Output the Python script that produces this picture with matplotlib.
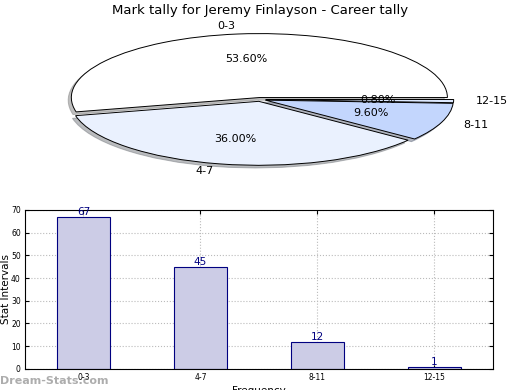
import numpy as np
import matplotlib
matplotlib.use("Agg")
import matplotlib.pyplot as plt

# Data
categories = ["0-3", "4-7", "8-11", "12-15"]
counts = [67, 45, 12, 1]
pie_colors = ["#ffffff", "#eaf1fe", "#c3d6fd", "#dce8fe"]
explode = [0.03, 0.03, 0.03, 0.03]

fig = plt.figure(figsize=(5.2, 3.9), dpi=100)

# Pie (squashed ellipse)
ax_pie = fig.add_axes([0.048, 0.54, 0.904, 0.41])
wedges, texts, autotexts = ax_pie.pie(
    counts, labels=categories, colors=pie_colors, explode=explode,
    autopct="%.2f%%", shadow=dict(ox=-0.012, oy=-0.03, shade=0.5),
    startangle=0, labeldistance=1.12,
    pctdistance=0.6, wedgeprops=dict(edgecolor="black", linewidth=0.7),
    textprops=dict(fontsize=8))
ax_pie.set_aspect("auto")
ax_pie.set_xlim(-1.25, 1.25)
ax_pie.set_ylim(-1.25, 1.25)
fig.text(0.5, 0.972, "Mark tally for Jeremy Finlayson - Career tally",
         ha="center", va="center", fontsize=9.5)

# Bars
ax_bar = fig.add_axes([0.048, 0.054, 0.9, 0.408])
x = np.arange(len(categories))
ax_bar.bar(x, counts, width=0.45, color="#cccce6",
           edgecolor="#000080", linewidth=0.8, zorder=2)
for xi, c in zip(x, counts):
    ax_bar.text(xi, c, str(c), ha="center", va="bottom", color="#000080",
                fontsize=7.5, zorder=3)
ax_bar.set_xlim(-0.5, 3.5)
ax_bar.set_ylim(0, 70)
ax_bar.set_yticks(range(0, 71, 10))
ax_bar.set_xticks(x)
ax_bar.set_xticklabels(categories)
ax_bar.tick_params(labelsize=5.5, direction="in", top=True, right=True,
                   length=3, pad=3)
ax_bar.grid(True, linestyle=":", color="#bbbbbb", linewidth=0.8, zorder=0)
ax_bar.set_axisbelow(True)
ax_bar.set_ylabel("Stat Intervals", fontsize=7.5)
ax_bar.yaxis.set_label_coords(-0.03, 0.5)
ax_bar.set_xlabel("Frequency", fontsize=7.5)
ax_bar.xaxis.set_label_coords(0.5, -0.11)

fig.text(0.0, 0.023, "Dream-Stats.com", color="#999999", fontsize=8,
         fontweight="bold", ha="left", va="center", alpha=0.8)

fig.savefig("out.png", dpi=100)
